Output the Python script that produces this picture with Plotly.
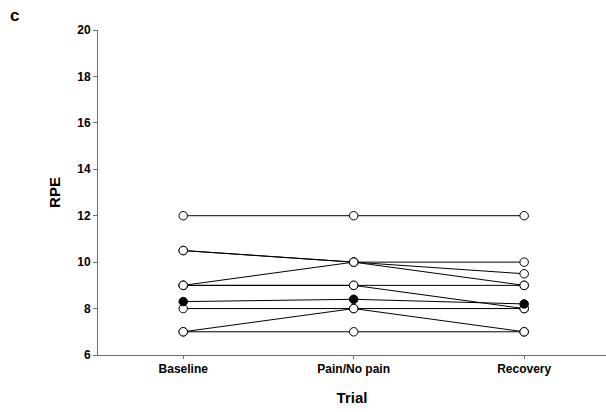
import plotly.graph_objects as go

trials = ["Baseline", "Pain/No pain", "Recovery"]

s1 = [12, 12, 12]
s2 = [10.5, 10, 9.5]
s3 = [9, 10, 10]
s4 = [10.5, 10, 9]
s5 = [9, 9, 9]
s6 = [9, 9, 8]
s7 = [8, 8, 8]
s8 = [7, 8, 7]
s9 = [7, 7, 7]
subjects = [s1, s2, s3, s4, s5, s6, s7, s8, s9]

mean_rpe = [8.3, 8.4, 8.2]

y_ticks = [6, 8, 10, 12, 14, 16, 18, 20]

fig = go.Figure()
for s in subjects:
    fig.add_trace(go.Scatter(
        x=trials, y=s, mode="lines+markers",
        line=dict(color="black", width=1),
        marker=dict(symbol="circle", size=8.5, color="white",
                    line=dict(color="black", width=1)),
        showlegend=False, hoverinfo="skip"))

fig.add_trace(go.Scatter(
    x=trials, y=mean_rpe, mode="lines+markers",
    line=dict(color="black", width=1),
    marker=dict(symbol="circle", size=8.5, color="black",
                line=dict(color="black", width=1)),
    showlegend=False))

font_family = "Liberation Sans, Arial, sans-serif"

fig.update_layout(
    width=606, height=412,
    margin=dict(l=98, r=0, t=30, b=57),
    paper_bgcolor="white", plot_bgcolor="white",
    font=dict(family=font_family, color="black"),
    xaxis=dict(
        type="category", range=[-0.5, 2.48],
        showline=True, linecolor="#6e6e6e", linewidth=1,
        ticks="outside", ticklen=3, tickcolor="#6e6e6e",
        tickfont=dict(size=12, family=font_family, weight="bold"),
        showgrid=False, zeroline=False,
        title=dict(text="<b>Trial</b>", font=dict(size=15), standoff=17),
    ),
    yaxis=dict(
        range=[6, 20], tickvals=y_ticks,
        showline=True, linecolor="#6e6e6e", linewidth=1,
        ticks="outside", ticklen=4, tickcolor="#6e6e6e",
        tickfont=dict(size=12, family=font_family, weight="bold"),
        showgrid=False, zeroline=False,
        title=dict(text="<b>RPE</b>", font=dict(size=15), standoff=12),
    ),
    annotations=[dict(
        text="<b>c</b>", xref="paper", yref="paper",
        x=-90 / 508, y=1 + 26 / 325,
        xanchor="left", yanchor="top", showarrow=False,
        font=dict(size=17)
    )],
)

fig.write_html("out.html")
